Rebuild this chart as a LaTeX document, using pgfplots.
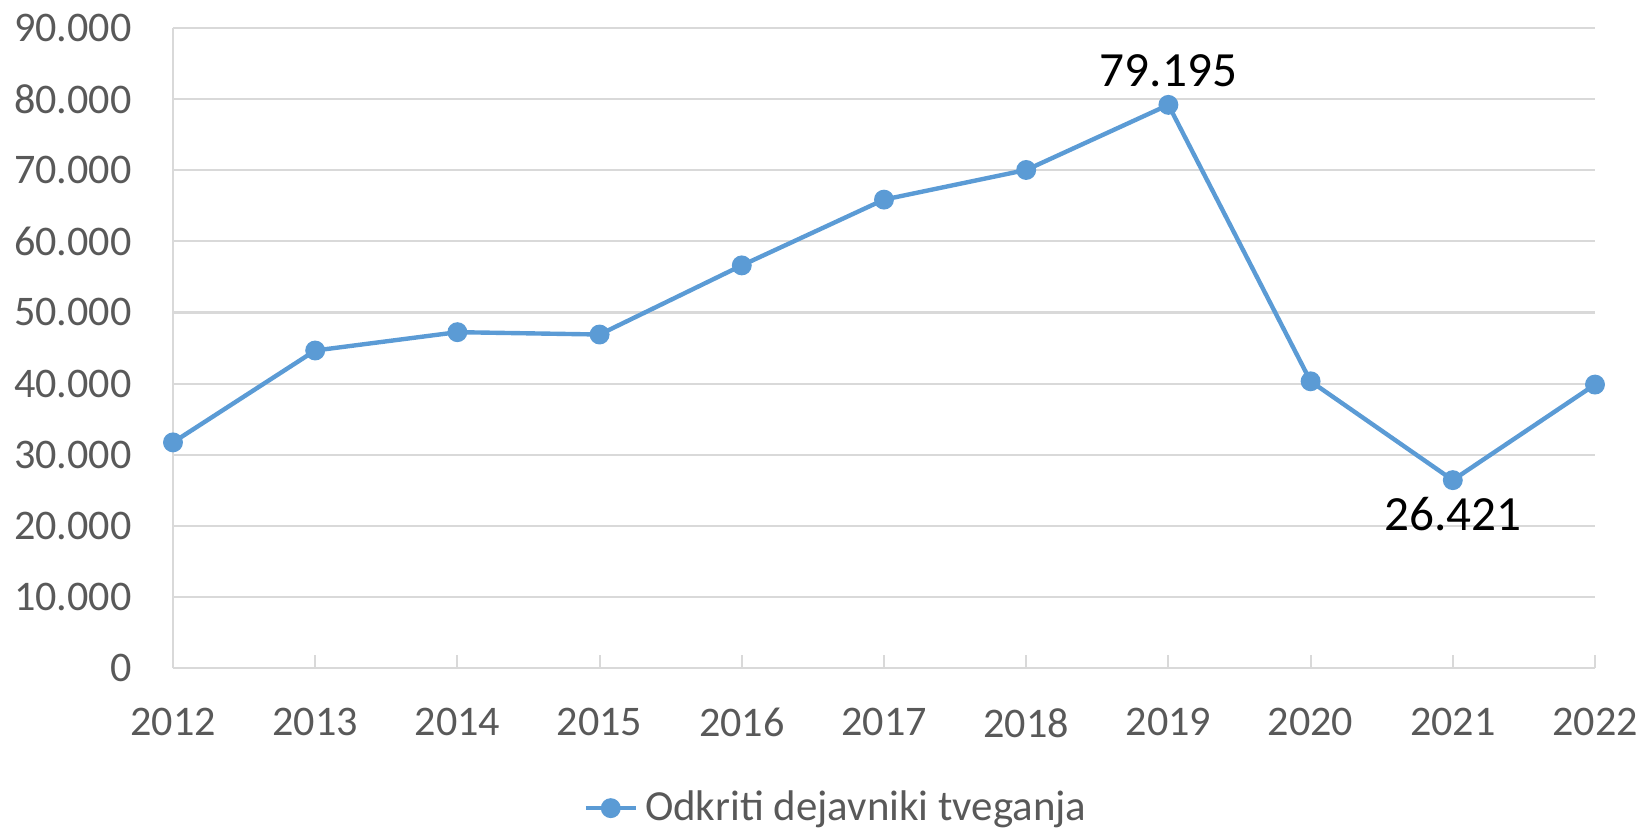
\documentclass[border=0pt]{standalone}
\usepackage{fontspec}
\setmainfont{Carlito}
\usepackage{pgfplots}
\pgfplotsset{compat=1.18}
\definecolor{serie}{HTML}{5B9BD5}
\definecolor{mreza}{HTML}{D9D9D9}
\definecolor{besedilo}{HTML}{595959}

\begin{document}
\begin{tikzpicture}
\useasboundingbox (-1.73,-1.60) rectangle (14.69,6.68);
\begin{axis}[
    at={(0,0)}, anchor=south west,
    scale only axis,
    width=14.22cm, height=6.40cm,
    xmin=2012, xmax=2022,
    ymin=0, ymax=90000,
    xtick={2012,2013,...,2022},
    ytick={0,10000,...,90000},
    scaled y ticks=false,
    /pgf/number format/assume math mode=true,
    /pgf/number format/1000 sep={.},
    xticklabel style={/pgf/number format/1000 sep={}, yshift=-2.8mm},
    yticklabel style={xshift=-2.9mm},
    ticklabel style={font=\fontsize{12}{14}\selectfont, text=besedilo},
    axis x line*=bottom,
    axis y line*=left,
    axis line style={mreza, line width=0.6pt, -},
    xtick align=inside,
    major tick length=1.3mm,
    xtick style={mreza, line width=0.6pt},
    ytick style={draw=none},
    ymajorgrids=true,
    grid style={mreza, line width=0.6pt},
    clip=false,
    legend style={
        at={(axis description cs:0.468,-0.219)}, anchor=center,
        draw=none, fill=none,
        font=\fontsize{12.2}{14}\selectfont, text=besedilo,
        /tikz/every even column/.append style={column sep=0pt},
    },
    legend cell align=left,
    legend image code/.code={
        \draw[mark repeat=2, mark phase=2] plot coordinates {(0cm,0cm) (0.25cm,0cm) (0.5cm,0cm)};
    },
]
\addplot[serie, line width=1.25pt, mark=*, mark size=2.2pt,
         mark options={solid, fill=serie, draw=serie}]
    coordinates {
    (2012,31730) (2013,44650) (2014,47230) (2015,46900) (2016,56620)
    (2017,65870) (2018,70040) (2019,79195) (2020,40320) (2021,26421)
    (2022,39860)
    };
\addlegendentry{Odkriti dejavniki tveganja}

% oznake podatkov
\addplot[draw=none, forget plot, nodes near coords, point meta=y,
         nodes near coords style={anchor=south, yshift=0.6mm, text=black,
                                  font=\fontsize{14}{16}\selectfont}]
    coordinates {(2019,79195)};
\addplot[draw=none, forget plot, nodes near coords, point meta=y,
         nodes near coords style={anchor=north, yshift=-0.5mm, text=black,
                                  font=\fontsize{14}{16}\selectfont}]
    coordinates {(2021,26421)};
\end{axis}
\end{tikzpicture}
\end{document}
